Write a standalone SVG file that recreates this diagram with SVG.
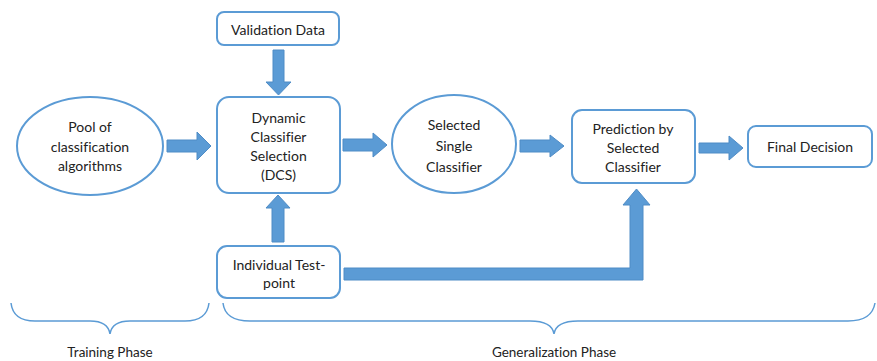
<svg xmlns="http://www.w3.org/2000/svg" width="877" height="361" viewBox="0 0 877 361">
<style>
.n{fill:#fff;stroke:#5B9BD5;stroke-width:2}
.a{fill:#5B9BD5;stroke:#4F8CC6;stroke-width:1}
.b{fill:none;stroke:#5B9BD5;stroke-width:1.5}
text{font-family:Lato,"Open Sans","Liberation Sans",sans-serif;font-size:14px;fill:#222;text-anchor:middle;font-variant-ligatures:none}
.s{font-size:13.5px}
</style>
<rect width="877" height="361" fill="#fff"/>
<g id="connectors">
<path class="a" d="M167,140 H197 V132 L211,146 L197,160 V152 H167 Z"/>
<path class="a" d="M343,139 H373 V133 L387,145 L373,157 V151 H343 Z"/>
<path class="a" d="M520,140 H550 V135 L564,146 L550,157 V152 H520 Z"/>
<path class="a" d="M699,143 H729 V136 L743,148 L729,160 V153 H699 Z"/>
<path class="a" d="M273,50 H284 V82 H291 L278.5,95 L266,82 H273 Z"/>
<path class="a" d="M272,242 H284 V208 H290 L278,195 L266,208 H272 Z"/>
<path class="a" d="M344,268 H630 V205 H623 L636.5,189 L650,205 H643 V280 H344 Z"/>
</g>
<g id="pool"><ellipse class="n" cx="90" cy="146" rx="73" ry="49"/>
<text x="90" y="132">Pool of</text><text x="90" y="152">classification</text><text x="90" y="171">algorithms</text></g>
<g id="validation"><rect class="n" x="217" y="12" width="122" height="33" rx="7"/>
<text x="278" y="35">Validation Data</text></g>
<g id="dcs"><rect class="n" x="217" y="97" width="123" height="96" rx="12"/>
<text x="278.5" y="123">Dynamic</text><text x="278.5" y="142">Classifier</text><text x="278.5" y="161">Selection</text><text x="278.5" y="180">(DCS)</text></g>
<g id="single"><ellipse class="n" cx="454" cy="144" rx="62" ry="49"/>
<text x="454" y="130">Selected</text><text x="454" y="151">Single</text><text x="454" y="172">Classifier</text></g>
<g id="prediction"><rect class="n" x="572" y="110" width="123" height="73" rx="10"/>
<text x="633" y="134">Prediction by</text><text x="633" y="153">Selected</text><text x="633" y="172">Classifier</text></g>
<g id="final"><rect class="n" x="748" y="126" width="124" height="41" rx="8"/>
<text x="810" y="152">Final Decision</text></g>
<g id="testpoint"><rect class="n" x="217" y="246" width="123" height="52" rx="10"/>
<text x="279" y="270">Individual Test-</text><text x="279" y="288">point</text></g>
<g id="training">
<path class="b" d="M11,303 Q13,321 35,321 H90 Q108,321 110,334 Q112,321 130,321 H185 Q207,321 209,303"/>
<text class="s" x="110" y="357">Training Phase</text></g>
<g id="generalization">
<path class="b" d="M223,303 Q225,321 250,321 H530 Q552,321 554,334 Q556,321 578,321 H848 Q872,321 875,303"/>
<text class="s" x="554" y="357">Generalization Phase</text></g>
</svg>
